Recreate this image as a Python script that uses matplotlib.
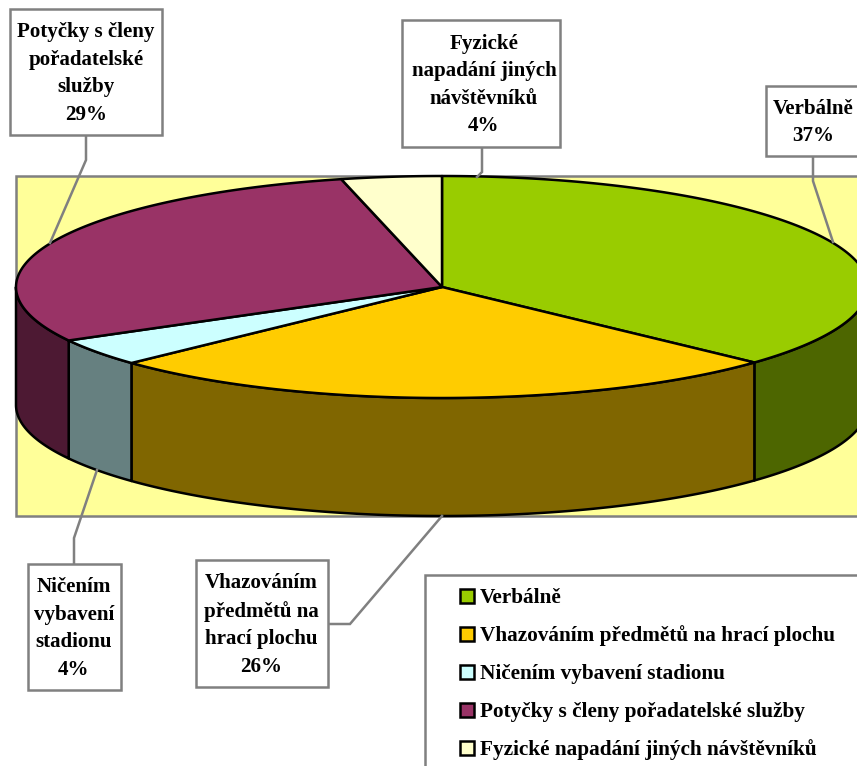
import numpy as np
import matplotlib
matplotlib.use('Agg')
import matplotlib.pyplot as plt
from matplotlib.patches import Rectangle

# data
categories = ['Verbálně', 'Vhazováním předmětů na hrací plochu', 'Ničením vybavení stadionu',
              'Potyčky s členy pořadatelské služby', 'Fyzické napadání jiných návštěvníků']
wrapped = ['Verbálně', 'Vhazováním\npředmětů na\nhrací plochu', 'Ničením\nvybavení\nstadionu',
           'Potyčky s členy\npořadatelské\nslužby', 'Fyzické\nnapadání jiných\nnávštěvníků']
values = [36.9, 26.1, 4.0, 29.2, 3.8]
top_colors = ['#99CC00', '#FFCC00', '#CCFFFF', '#993366', '#FFFFCC']
side_colors = ['#4D6600', '#806600', '#668080', '#4D1933', '#808066']

GREY = '#808080'
FONT = 'Liberation Serif'

plt.rcParams['font.family'] = FONT
plt.rcParams['font.weight'] = 'bold'

fig = plt.figure(figsize=(8.57, 7.66), dpi=100)
ax = fig.add_axes([0, 0, 1, 1])
ax.set_xlim(0, 857)
ax.set_ylim(766, 0)
ax.axis('off')

# pie geometry, in pixels
cx, cy = 442, 287
rx, ry = 426, 111
depth = 118


def rim(a1, a2, drop=0):
    t = np.radians(np.linspace(a1, a2, 200))
    return cx + rx * np.sin(t), cy - ry * np.cos(t) + drop


# plot area
ax.add_patch(Rectangle((16, 176), 870, 340, fc='#FFFF99', ec=GREY, lw=1.8, zorder=1))

edges = np.cumsum([0] + values) / sum(values) * 360

# sides, only the front half of the rim shows
for i in range(len(values)):
    a1, a2 = max(edges[i], 90), min(edges[i + 1], 270)
    if a1 >= a2:
        continue
    x1, y1 = rim(a1, a2)
    x2, y2 = rim(a2, a1, depth)
    ax.fill(np.r_[x1, x2], np.r_[y1, y2], fc=side_colors[i], ec='black', lw=1.8,
            joinstyle='round', zorder=2)

# top
for i in range(len(values)):
    x1, y1 = rim(edges[i], edges[i + 1])
    ax.fill(np.r_[cx, x1], np.r_[cy, y1], fc=top_colors[i], ec='black', lw=1.8,
            joinstyle='round', zorder=3)

# leader lines
leaders = [
    ([813, 813, 833], [156, 181, 242]),
    ([328, 350, 442], [624, 624, 516]),
    ([74, 74, 97], [564, 538, 470]),
    ([86, 86, 50], [135, 160, 243]),
    ([482, 482, 477], [147, 172, 177]),
]
for lx, ly in leaders:
    ax.plot(lx, ly, color=GREY, lw=1.8, zorder=4, solid_joinstyle='miter')

# data labels
boxes = [(766, 86, 110, 70), (196, 560, 132, 127), (28, 564, 93, 126),
         (10, 9, 152, 126), (402, 20, 158, 127)]
centers = [813.5, 261, 74, 86, 484]
for i, (bx, by, bw, bh) in enumerate(boxes):
    ax.add_patch(Rectangle((bx, by), bw, bh, fc='white', ec=GREY, lw=1.8, zorder=5))
    ax.text(centers[i], by + bh / 2 + 1.5, '%s\n%.0f%%' % (wrapped[i], values[i]), ha='center', va='center',
            fontsize=15.1, fontweight='bold', linespacing=1.5, color='black', zorder=6)

# legend
ax.add_patch(Rectangle((425, 575), 470, 230, fc='white', ec=GREY, lw=1.8, zorder=5))
for i, name in enumerate(categories):
    y = 596 + i * 38
    ax.add_patch(Rectangle((460, y - 7), 14, 14, fc=top_colors[i], ec='black', lw=1.8, zorder=6))
    ax.text(480, y + 2, name, ha='left', va='center', fontsize=15.3, fontweight='bold', color='black', zorder=6)

fig.savefig('out.png', dpi=100)
